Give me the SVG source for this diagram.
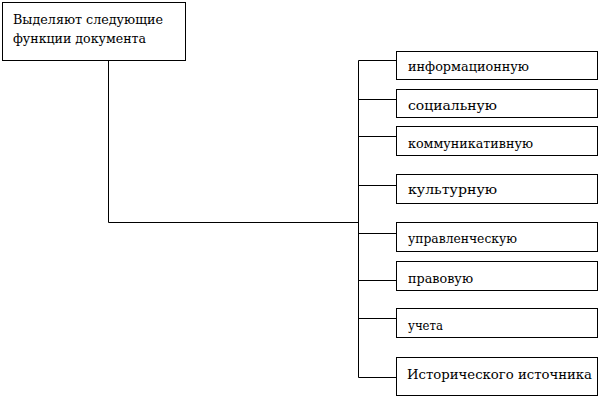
<svg xmlns="http://www.w3.org/2000/svg" width="601" height="400" viewBox="0 0 601 400">
<style>
.box{fill:#fff;stroke:#000;stroke-width:1}
.ln{fill:none;stroke:#000;stroke-width:1}
.t{font-family:'DejaVu Serif',serif;font-size:13px;fill:#000}
</style>
<rect width="601" height="400" fill="#fff"/>
<g id="connectors">
<path class="ln" d="M108.5 60.5V222.5H358.5"/>
<path class="ln" d="M358.5 60.5V377.5"/>
<path class="ln" d="M358.5 60.5H396.5M358.5 99.5H396.5M358.5 136.5H396.5M358.5 185.5H396.5M358.5 233.5H396.5M358.5 280.5H396.5M358.5 318.5H396.5M358.5 377.5H396.5"/>
</g>
<g id="root">
<rect class="box" x="2.5" y="2.5" width="183" height="58"/>
<text class="t" x="13" y="23.5" textLength="150" lengthAdjust="spacingAndGlyphs">Выделяют следующие</text>
<text class="t" x="13" y="43" textLength="133" lengthAdjust="spacingAndGlyphs">функции документа</text>
</g>
<g id="n1">
<rect class="box" x="396.5" y="51.5" width="201" height="28"/>
<text class="t" x="408" y="71" textLength="121" lengthAdjust="spacingAndGlyphs">информационную</text>
</g>
<g id="n2">
<rect class="box" x="396.5" y="89.5" width="201" height="28"/>
<text class="t" x="408" y="110" textLength="89" lengthAdjust="spacingAndGlyphs">социальную</text>
</g>
<g id="n3">
<rect class="box" x="396.5" y="126.5" width="201" height="29"/>
<text class="t" x="408" y="148" textLength="125" lengthAdjust="spacingAndGlyphs">коммуникативную</text>
</g>
<g id="n4">
<rect class="box" x="396.5" y="174.5" width="201" height="29"/>
<text class="t" x="408" y="194" textLength="89" lengthAdjust="spacingAndGlyphs">культурную</text>
</g>
<g id="n5">
<rect class="box" x="396.5" y="222.5" width="201" height="29"/>
<text class="t" x="408" y="243" textLength="109" lengthAdjust="spacingAndGlyphs">управленческую</text>
</g>
<g id="n6">
<rect class="box" x="396.5" y="261.5" width="201" height="29"/>
<text class="t" x="408" y="283" textLength="65" lengthAdjust="spacingAndGlyphs">правовую</text>
</g>
<g id="n7">
<rect class="box" x="396.5" y="308.5" width="201" height="29"/>
<text class="t" x="408" y="330" textLength="35" lengthAdjust="spacingAndGlyphs">учета</text>
</g>
<g id="n8">
<rect class="box" x="396.5" y="357.5" width="201" height="38"/>
<text class="t" x="407" y="379" textLength="185" lengthAdjust="spacingAndGlyphs">Исторического источника</text>
</g>
</svg>
